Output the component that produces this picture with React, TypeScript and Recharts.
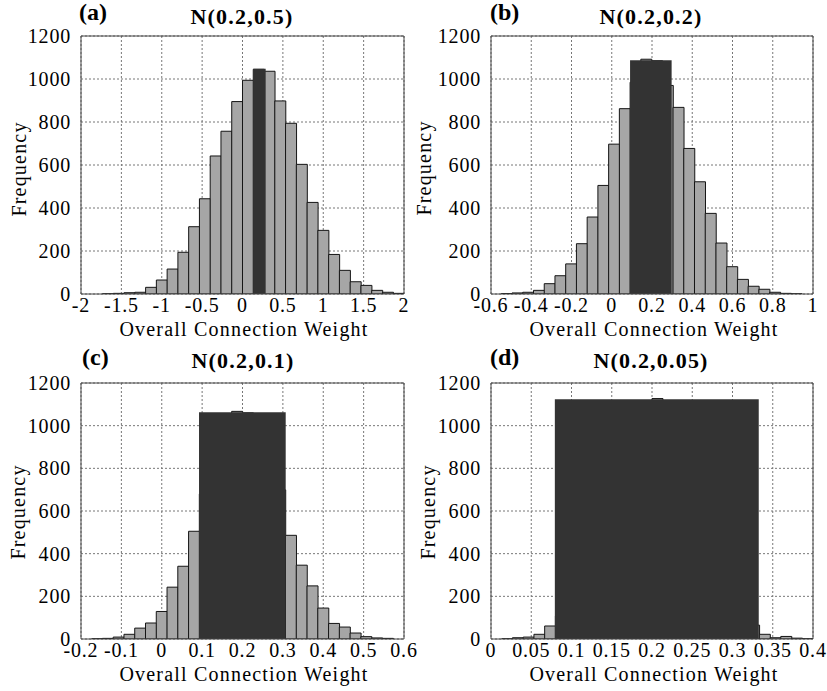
import React from 'react';
import { ComposedChart, Bar, XAxis, YAxis, CartesianGrid, ReferenceArea } from 'recharts';

// histogram counts, one per bin (left to right)
const countsA = [0, 0, 1, 3, 6, 8, 31, 65, 116, 194, 313, 443, 642, 757, 895, 994, 1045, 1036, 898, 794, 603, 426, 296, 184, 110, 57, 40, 17, 8, 3];
const countsB = [2, 5, 8, 17, 48, 85, 140, 234, 358, 505, 697, 862, 985, 1092, 1085, 970, 868, 677, 522, 375, 237, 127, 68, 36, 22, 8, 3, 1];
const countsC = [1, 3, 9, 22, 51, 75, 129, 243, 341, 505, 680, 843, 981, 1067, 1060, 989, 864, 699, 486, 346, 249, 145, 73, 56, 28, 11, 5, 3];
const countsD = [0, 1, 6, 9, 22, 61, 108, 182, 286, 421, 582, 754, 915, 1044, 1117, 1127, 1053, 929, 769, 596, 435, 297, 190, 114, 65, 22, 6, 12, 4, 1];

// first bin edge and bin width
const binA = [-2, 0.13333];
const binB = [-0.5488, 0.05333];
const binC = [-0.1736, 0.02667];
const binD = [0, 0.013333];

// dark block: from, to, height
const darkA = [0.134, 0.287, 1048];
const darkB = [0.091, 0.2975, 1087];
const darkC = [0.0923, 0.307, 1063];
const darkD = [0.0793, 0.3326, 1124];

const ticksA = [-2, -1.5, -1, -0.5, 0, 0.5, 1, 1.5, 2];
const ticksB = [-0.6, -0.4, -0.2, 0, 0.2, 0.4, 0.6, 0.8, 1];
const ticksC = [-0.2, -0.1, 0, 0.1, 0.2, 0.3, 0.4, 0.5, 0.6];
const ticksD = [0, 0.05, 0.1, 0.15, 0.2, 0.25, 0.3, 0.35, 0.4];
const freqTicks = [0, 200, 400, 600, 800, 1000, 1200];

const titles = ['N(0.2,0.5)', 'N(0.2,0.2)', 'N(0.2,0.1)', 'N(0.2,0.05)'];
const letters = ['(a)', '(b)', '(c)', '(d)'];

const serif = '"Liberation Serif", "Times New Roman", serif';
const frame = '#444';

const steps = (lo: number, hi: number, step: number) => {
  const out: number[] = [];
  const n = Math.round((hi - lo) / step);
  for (let i = 0; i <= n; i++) out.push(+(lo + i * step).toFixed(6));
  return out;
};

type PanelProps = {
  counts: number[];
  bin: number[];
  dark: number[];
  ticks: number[];
  minor: number;
  left: number;
  top: number;
  width: number;
  height: number;
  margin: { top: number; right: number; left: number; bottom: number };
  yWidth: number;
  xHeight: number;
};

function Panel(p: PanelProps) {
  const rows = p.counts.map((n, i) => ({ x: p.bin[0] + (i + 0.5) * p.bin[1], n }));
  const domain = [p.ticks[0], p.ticks[p.ticks.length - 1]];
  const minorX = steps(domain[0], domain[1], p.minor);
  const minorY = steps(0, 1200, 50);
  const tickStyle = { fontFamily: serif, fontSize: 20, fill: '#000', letterSpacing: 0.8 };
  return (
    <div style={{ position: 'absolute', left: p.left, top: p.top }}>
      <ComposedChart width={p.width} height={p.height} data={rows} margin={p.margin} barCategoryGap={0} barGap={0}>
        <CartesianGrid stroke="#777" strokeDasharray="2 2" />
        <XAxis
          type="number"
          dataKey="x"
          domain={domain}
          ticks={p.ticks}
          allowDataOverflow
          tick={tickStyle}
          tickLine={false}
          tickSize={0}
          tickMargin={4}
          height={p.xHeight}
          axisLine={{ stroke: frame }}
          interval={0}
        />
        <XAxis xAxisId="top" orientation="top" mirror type="number" domain={domain} ticks={minorX} allowDataOverflow
          tick={false} tickSize={4} height={4} axisLine={{ stroke: frame }} tickLine={{ stroke: frame }} interval={0} />
        <XAxis xAxisId="bot" orientation="bottom" mirror type="number" domain={domain} ticks={minorX} allowDataOverflow
          tick={false} tickSize={4} height={4} axisLine={false} tickLine={{ stroke: frame }} interval={0} />
        <YAxis
          type="number"
          domain={[0, 1200]}
          ticks={freqTicks}
          allowDataOverflow
          tick={tickStyle}
          tickLine={false}
          tickSize={0}
          tickMargin={10}
          width={p.yWidth}
          axisLine={{ stroke: frame }}
          interval={0}
        />
        <YAxis yAxisId="lm" orientation="left" mirror type="number" domain={[0, 1200]} ticks={minorY} allowDataOverflow
          tick={false} tickSize={4} width={4} axisLine={false} tickLine={{ stroke: frame }} interval={0} />
        <YAxis yAxisId="rm" orientation="right" mirror type="number" domain={[0, 1200]} ticks={minorY} allowDataOverflow
          tick={false} tickSize={4} width={4} axisLine={{ stroke: frame }} tickLine={{ stroke: frame }} interval={0} />
        <Bar dataKey="n" fill="#a6a6a6" stroke="#151515" strokeWidth={1} isAnimationActive={false} />
        <ReferenceArea x1={p.dark[0]} x2={p.dark[1]} y1={0} y2={p.dark[2]} fill="#333333" fillOpacity={1}
          stroke="none" zIndex={350} />
      </ComposedChart>
    </div>
  );
}

const textBold = { fontFamily: serif, fontWeight: 700 as const };
const textReg = { fontFamily: serif, fontSize: 20, letterSpacing: 1.2 };

export default function App() {
  const titlePos = [[242, 24], [651, 24], [243, 368], [651, 368]];
  const letterPos = [[79, 20], [490, 20], [82, 365], [490, 365]];
  const freqPos = [[26, 169], [431, 168], [25, 512], [435, 512]];
  const xlabPos = [[244, 336], [654, 336], [244, 681], [654, 681]];
  return (
    <div style={{ position: 'absolute', left: 0, top: 0, width: 827, height: 691, background: '#fff', overflow: 'hidden' }}>
      <Panel counts={countsA} bin={binA} dark={darkA} ticks={ticksA} minor={0.1}
        left={0} top={0} width={414} height={345} margin={{ top: 36, right: 10, left: 0, bottom: 0 }} yWidth={81} xHeight={51} />
      <Panel counts={countsB} bin={binB} dark={darkB} ticks={ticksB} minor={0.05}
        left={414} top={0} width={413} height={345} margin={{ top: 36, right: 14, left: 0, bottom: 0 }} yWidth={77} xHeight={51} />
      <Panel counts={countsC} bin={binC} dark={darkC} ticks={ticksC} minor={0.02}
        left={0} top={340} width={420} height={351} margin={{ top: 43, right: 16, left: 0, bottom: 0 }} yWidth={81} xHeight={52} />
      <Panel counts={countsD} bin={binD} dark={darkD} ticks={ticksD} minor={0.01}
        left={414} top={340} width={413} height={351} margin={{ top: 43, right: 14, left: 0, bottom: 0 }} yWidth={77} xHeight={52} />
      <svg width={827} height={691} style={{ position: 'absolute', left: 0, top: 0, pointerEvents: 'none' }}>
        {titles.map((t, i) => (
          <text key={t} x={titlePos[i][0]} y={titlePos[i][1]} textAnchor="middle" fontSize={22} letterSpacing={1.2} {...textBold}>{t}</text>
        ))}
        {letters.map((t, i) => (
          <text key={t} x={letterPos[i][0]} y={letterPos[i][1]} fontSize={24} {...textBold}>{t}</text>
        ))}
        {freqPos.map(([x, y], i) => (
          <text key={'f' + i} x={x} y={y} textAnchor="middle" transform={`rotate(-90, ${x}, ${y})`} {...textReg}>Frequency</text>
        ))}
        {xlabPos.map(([x, y], i) => (
          <text key={'x' + i} x={x} y={y} textAnchor="middle" {...textReg}>Overall Connection Weight</text>
        ))}
      </svg>
    </div>
  );
}
